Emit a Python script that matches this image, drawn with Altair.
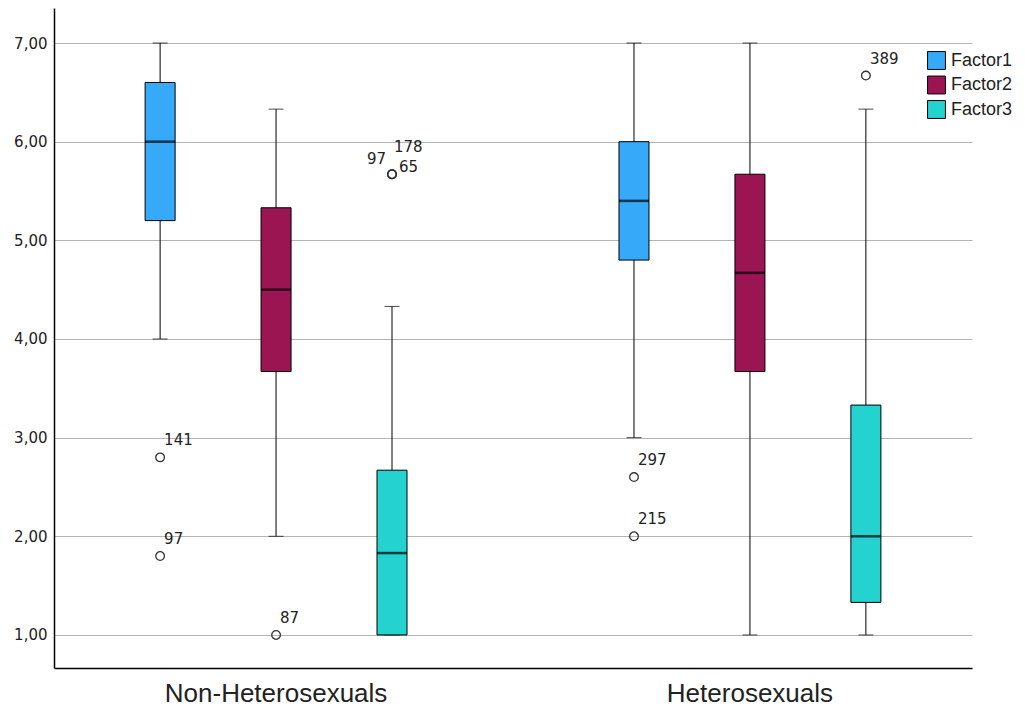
import altair as alt
import pandas as pd

# ---- data ----
group_order = ["Non-Heterosexuals", "Heterosexuals"]
factor_order = ["Factor1", "Factor2", "Factor3"]
factor_colors = ["#36a9f9", "#9c1553", "#24d3d0"]

box_groups = ["Non-Heterosexuals"] * 3 + ["Heterosexuals"] * 3
box_factors = ["Factor1", "Factor2", "Factor3"] * 2
whisker_low = [4.0, 2.0, 1.0, 3.0, 1.0, 1.0]
q1 = [5.2, 3.67, 1.0, 4.8, 3.67, 1.33]
median = [6.0, 4.5, 1.83, 5.4, 4.67, 2.0]
q3 = [6.6, 5.33, 2.67, 6.0, 5.67, 3.33]
whisker_high = [7.0, 6.33, 4.33, 7.0, 7.0, 6.33]

out_groups = ["Non-Heterosexuals"] * 6 + ["Heterosexuals"] * 3
out_factors = ["Factor1", "Factor1", "Factor2", "Factor3", "Factor3", "Factor3",
               "Factor1", "Factor1", "Factor3"]
out_values = [2.8, 1.8, 1.0, 5.67, 5.67, 5.67, 2.6, 2.0, 6.67]
out_ids = ["141", "97", "87", "97", "178", "65", "297", "215", "389"]

y_ticks = [1, 2, 3, 4, 5, 6, 7]

box_df = pd.DataFrame({
    "group": box_groups, "factor": box_factors, "low": whisker_low,
    "q1": q1, "median": median, "q3": q3, "high": whisker_high,
})
out_df = pd.DataFrame({
    "group": out_groups, "factor": out_factors, "value": out_values, "id": out_ids,
})

x = alt.X("group:N", sort=group_order,
          scale=alt.Scale(domain=group_order, paddingInner=0.266, paddingOuter=0.1016),
          axis=alt.Axis(title=None, labelAngle=0, labelFontSize=26, labelFont="Liberation Sans",
                        labelColor="#222222", ticks=False, labelPadding=12, domainColor="black",
                        domainWidth=1.5, grid=False, labelLimit=0))
xo = alt.XOffset("factor:N", sort=factor_order,
                 scale=alt.Scale(domain=factor_order, paddingInner=0, paddingOuter=0))
yscale = alt.Scale(domain=[0.665, 7.355], nice=False, zero=False)
yaxis = alt.Axis(title=None, values=y_ticks, labelExpr="replace(format(datum.value, '.2f'), '.', ',')",
                 grid=True, gridColor="#b4b4b4", gridWidth=1, ticks=False, labelPadding=7,
                 domainColor="black", domainWidth=1.5, labelFontSize=15, labelFont="DejaVu Sans",
                 labelColor="#222222")

base = alt.Chart(box_df)

whiskers = base.mark_rule(color="black", strokeWidth=1).encode(
    x=x, xOffset=xo, y=alt.Y("low:Q", scale=yscale, axis=yaxis), y2="high:Q")
cap_low = base.mark_tick(color="black", size=15, thickness=1).encode(
    x=x, xOffset=xo, y=alt.Y("low:Q", scale=yscale))
cap_high = base.mark_tick(color="black", size=15, thickness=1).encode(
    x=x, xOffset=xo, y=alt.Y("high:Q", scale=yscale))
boxes = base.mark_bar(size=30, stroke="black", strokeWidth=1, opacity=1).encode(
    x=x, xOffset=xo, y=alt.Y("q1:Q", scale=yscale), y2="q3:Q",
    color=alt.Color("factor:N", sort=factor_order,
                    scale=alt.Scale(domain=factor_order, range=factor_colors),
                    legend=alt.Legend(title=None, orient="none", legendX=873, legendY=43,
                                      symbolType="square", symbolSize=320,
                                      symbolStrokeColor="black", symbolStrokeWidth=1,
                                      symbolOpacity=1, labelFontSize=18,
                                      labelFont="Liberation Sans", labelColor="#222222",
                                      rowPadding=1.5, labelOffset=5, padding=0)))
medians = base.mark_tick(color="black", size=30, thickness=2.5).encode(
    x=x, xOffset=xo, y=alt.Y("median:Q", scale=yscale))

obase = alt.Chart(out_df)
points = obase.mark_point(shape="circle", size=75, filled=False, color="#333333",
                          strokeWidth=1.3, opacity=1).encode(
    x=x, xOffset=xo, y=alt.Y("value:Q", scale=yscale))

cluster = "datum.group == 'Non-Heterosexuals' && datum.factor == 'Factor3'"
txt = dict(font="DejaVu Sans", fontSize=15, color="#222222", baseline="middle")
labels_main = obase.transform_filter("!(" + cluster + ")").mark_text(
    align="left", dx=4, dy=-17, **txt).encode(
    x=x, xOffset=xo, y=alt.Y("value:Q", scale=yscale), text="id:N")
lab_97 = obase.transform_filter(cluster + " && datum.id == '97'").mark_text(
    align="right", dx=-6, dy=-15, **txt).encode(
    x=x, xOffset=xo, y=alt.Y("value:Q", scale=yscale), text="id:N")
lab_178 = obase.transform_filter(cluster + " && datum.id == '178'").mark_text(
    align="left", dx=2, dy=-27, **txt).encode(
    x=x, xOffset=xo, y=alt.Y("value:Q", scale=yscale), text="id:N")
lab_65 = obase.transform_filter(cluster + " && datum.id == '65'").mark_text(
    align="left", dx=7, dy=-7, **txt).encode(
    x=x, xOffset=xo, y=alt.Y("value:Q", scale=yscale), text="id:N")

chart = alt.layer(whiskers, cap_low, cap_high, boxes, medians, points,
                  labels_main, lab_97, lab_178, lab_65).properties(
    width=918, height=660,
    background="white",
    autosize=alt.AutoSizeParams(type="none"),
    padding={"left": 46, "top": 0, "right": 45, "bottom": 44},
).configure_view(strokeWidth=0, strokeOpacity=0)

chart.save("out.html", embed_options={"renderer": "svg", "actions": False})
